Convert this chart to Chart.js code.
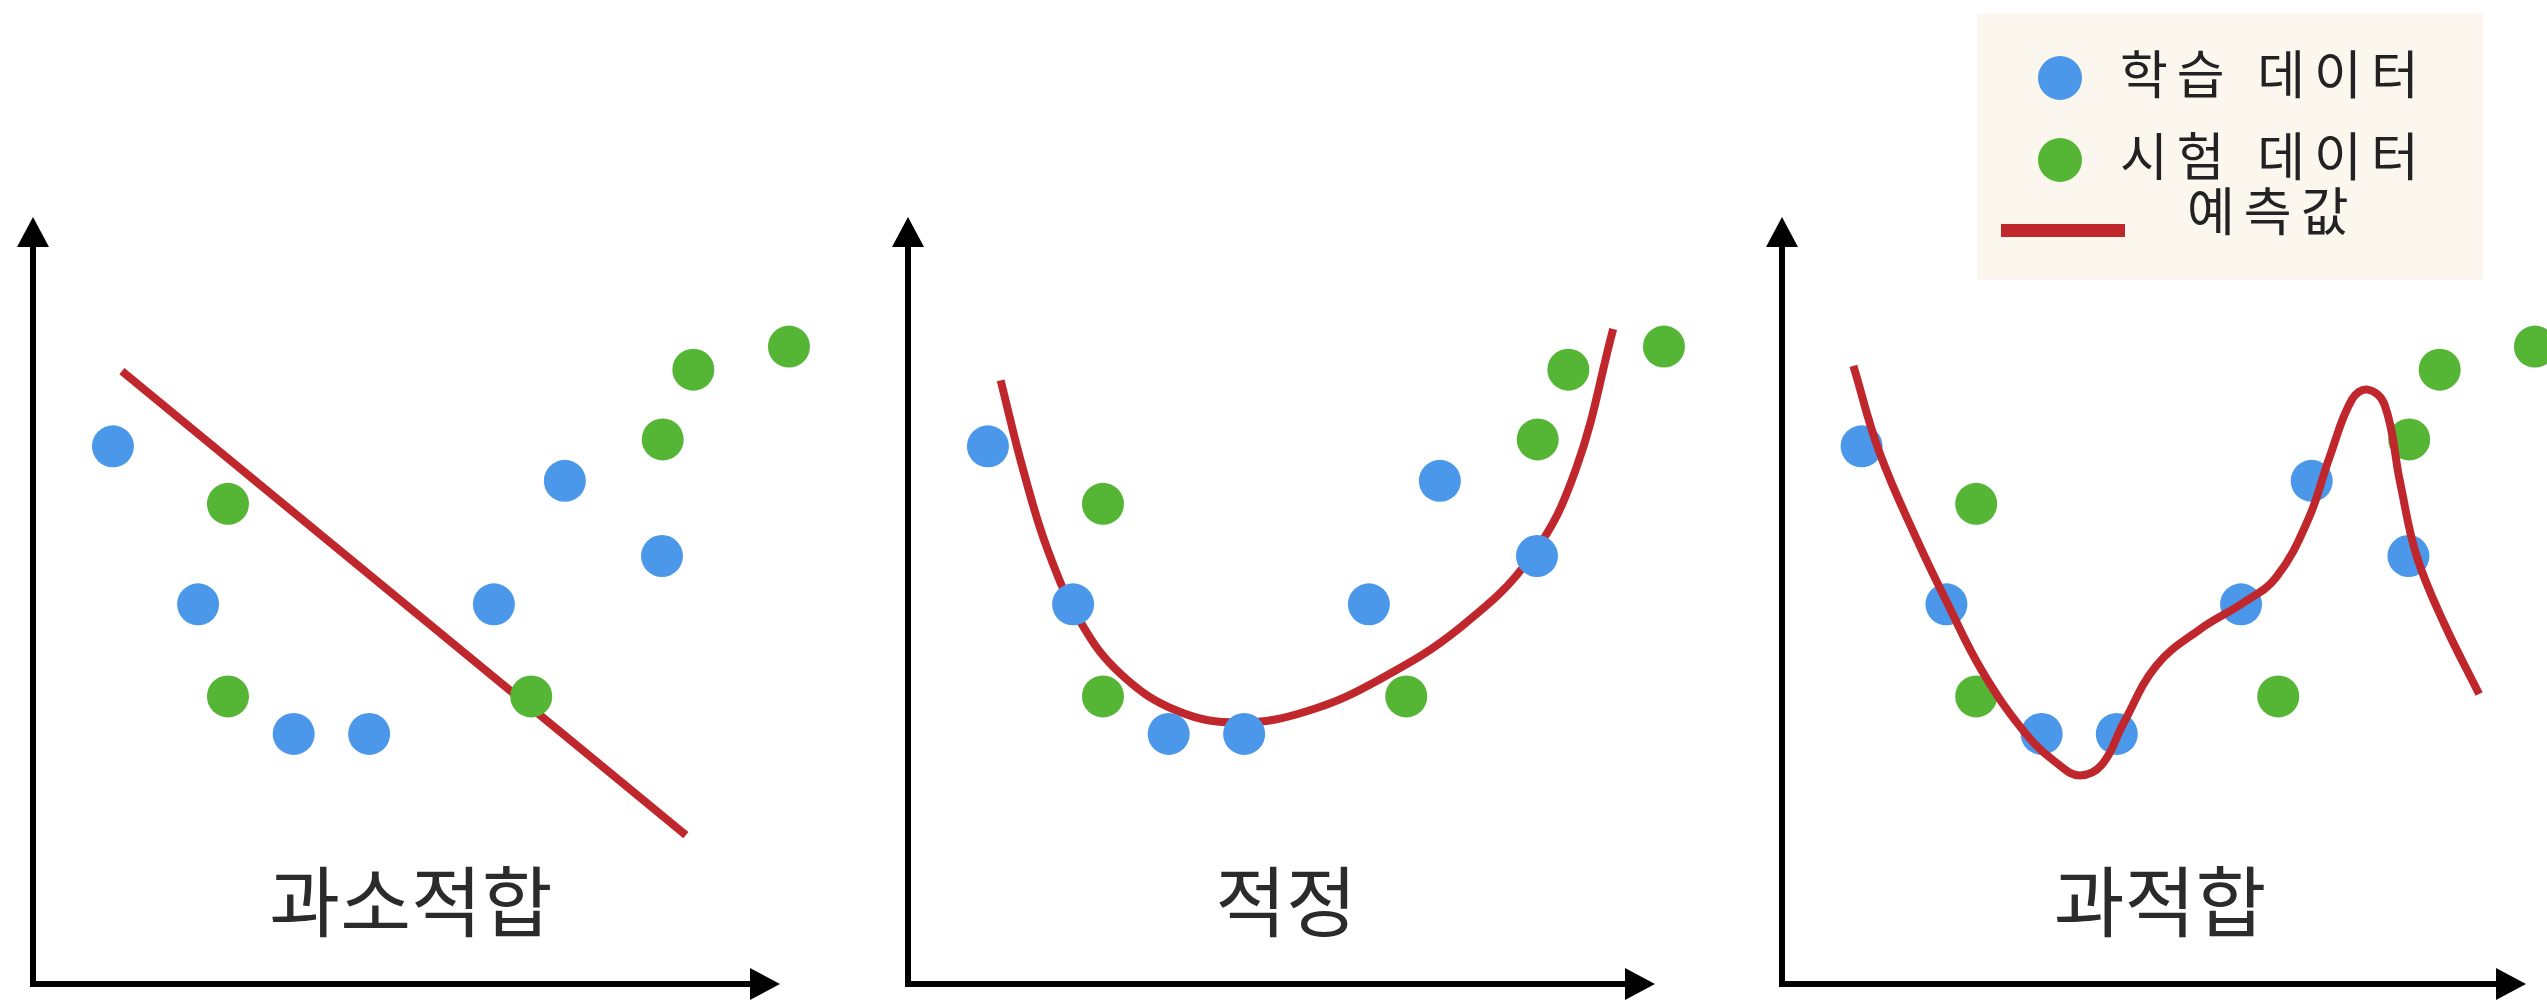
<!DOCTYPE html>
<html lang="ko">
<head>
<meta charset="utf-8">
<script src="https://cdn.jsdelivr.net/npm/chart.js@4.4.1/dist/chart.umd.min.js"></script>
<style>
html,body{margin:0;padding:0;background:#fff;width:2547px;height:1005px;overflow:hidden;}
#stage{position:relative;width:2547px;height:1005px;font-family:"Noto Sans CJK KR","Noto Sans",sans-serif;color:#2b2b2b;}
#stage canvas{position:absolute;top:0;}
.plabel{position:absolute;top:897px;transform:translate(-50%,-50%);font-size:77px;line-height:1;white-space:nowrap;}
#legend{position:absolute;left:1977px;top:14px;width:506px;height:266px;background:#fbf6ee;}
#legend .dot{position:absolute;width:44px;height:44px;border-radius:50%;transform:translate(-50%,-50%);}
#legend .bar{position:absolute;height:13px;}
#legend .txt{position:absolute;font-size:52px;line-height:1;letter-spacing:9px;white-space:nowrap;transform:translateY(-50%);color:#222;}
</style>
</head>
<body>
<div id="stage">
  <canvas id="c1" width="850" height="1005" style="left:0;width:850px;height:1005px;"></canvas>
  <canvas id="c2" width="850" height="1005" style="left:850px;width:850px;height:1005px;"></canvas>
  <canvas id="c3" width="847" height="1005" style="left:1700px;width:847px;height:1005px;"></canvas>
  <div class="plabel" id="l1" style="left:411px;"></div>
  <div class="plabel" id="l2" style="left:1286px;"></div>
  <div class="plabel" id="l3" style="left:2160px;"></div>
  <div id="legend"></div>
</div>
<script>
// ---------- data ----------
const panelTitles = ['과소적합', '적정', '과적합'];
const seriesNames = ['학습 데이터', '시험 데이터', '예측값'];

const axisMin = 0;
const axisMax = 10;

// training data (blue)
const trainX = [1.07, 2.21, 3.49, 4.50, 6.17, 7.12, 8.42];
const trainY = [7.01, 4.95, 3.26, 3.26, 4.95, 6.56, 5.58];

// test data (green)
const testX = [2.61, 2.61, 6.67, 8.43, 8.84, 10.12];
const testY = [6.26, 3.75, 3.75, 7.10, 8.01, 8.31];

// prediction: underfitting (straight line)
const underX = [1.19, 8.74];
const underY = [7.99, 1.94];

// prediction: good fit
const goodX = [1.24, 1.54, 1.87, 2.31, 2.85, 3.61, 4.44, 5.35, 6.33, 7.42, 8.35, 8.94, 9.44];
const goodY = [7.87, 6.71, 5.66, 4.72, 4.04, 3.56, 3.41, 3.56, 3.98, 4.67, 5.58, 6.71, 8.54];

// prediction: overfitting
const overX = [0.96, 1.31, 1.82, 2.22, 2.69, 3.28, 3.72, 4.00, 4.30, 4.59, 5.03, 5.61, 6.20, 6.64, 7.07, 7.36, 7.66, 7.87, 8.10, 8.31, 8.53, 8.90, 9.37];
const overY = [8.06, 6.93, 5.78, 4.97, 4.08, 3.26, 2.86, 2.72, 2.86, 3.40, 4.15, 4.62, 4.97, 5.30, 6.05, 6.87, 7.62, 7.75, 7.55, 6.53, 5.58, 4.70, 3.78];

// ---------- styling ----------
const BLUE = '#4b97ea';
const GREEN = '#55b534';
const RED = '#c0272d';

const toPts = (xs, ys) => xs.map((v, i) => ({ x: v, y: ys[i] }));

const arrowAxes = {
  id: 'arrowAxes',
  beforeDatasetsDraw(chart) {
    const { ctx, scales: { x, y } } = chart;
    const x0 = x.getPixelForValue(axisMin), x1 = x.getPixelForValue(axisMax);
    const y0 = y.getPixelForValue(axisMin), y1 = y.getPixelForValue(axisMax);
    ctx.save();
    ctx.strokeStyle = '#000';
    ctx.fillStyle = '#000';
    ctx.lineWidth = 6;
    ctx.lineJoin = 'miter';
    ctx.beginPath();
    ctx.moveTo(x0, y1 + 25);
    ctx.lineTo(x0, y0);
    ctx.lineTo(x1 - 25, y0);
    ctx.stroke();
    ctx.beginPath();
    ctx.moveTo(x1, y0);
    ctx.lineTo(x1 - 30, y0 - 16);
    ctx.lineTo(x1 - 30, y0 + 16);
    ctx.closePath();
    ctx.fill();
    ctx.beginPath();
    ctx.moveTo(x0, y1);
    ctx.lineTo(x0 - 16, y1 + 30);
    ctx.lineTo(x0 + 16, y1 + 30);
    ctx.closePath();
    ctx.fill();
    ctx.restore();
  }
};

function makeChart(id, curveX, curveY, pad, curveOnTop) {
  const ctx = document.getElementById(id);
  return new Chart(ctx, {
    type: 'scatter',
    data: {
      datasets: [
        {
          label: seriesNames[0],
          data: toPts(trainX, trainY),
          backgroundColor: BLUE,
          borderColor: BLUE,
          borderWidth: 0,
          pointRadius: 21,
          pointHoverRadius: 21,
          clip: false,
          order: 2
        },
        {
          label: seriesNames[1],
          data: toPts(testX, testY),
          backgroundColor: GREEN,
          borderColor: GREEN,
          borderWidth: 0,
          pointRadius: 21,
          pointHoverRadius: 21,
          clip: false,
          order: 2
        },
        {
          label: seriesNames[2],
          data: toPts(curveX, curveY),
          showLine: true,
          borderColor: RED,
          backgroundColor: RED,
          borderWidth: 8,
          borderCapStyle: 'butt',
          tension: 0.4,
          pointRadius: 0,
          pointHoverRadius: 0,
          clip: false,
          order: curveOnTop ? 1 : 3
        }
      ]
    },
    options: {
      responsive: false,
      animation: false,
      devicePixelRatio: 1,
      events: [],
      layout: { padding: pad },
      plugins: { legend: { display: false }, tooltip: { enabled: false }, title: { display: false } },
      scales: {
        x: { type: 'linear', min: axisMin, max: axisMax, display: false },
        y: { type: 'linear', min: axisMin, max: axisMax, display: false }
      }
    },
    plugins: [arrowAxes]
  });
}

makeChart('c1', underX, underY, { left: 33, right: 70, top: 217, bottom: 15 }, false);
makeChart('c2', goodX, goodY, { left: 58, right: 45, top: 217, bottom: 15 }, false);
makeChart('c3', overX, overY, { left: 82, right: 19, top: 217, bottom: 15 }, true);

// panel labels
['l1', 'l2', 'l3'].forEach((id, i) => { document.getElementById(id).textContent = panelTitles[i]; });

// legend
const lg = document.getElementById('legend');
function addEl(cls, style, text) {
  const d = document.createElement('div');
  d.className = cls;
  Object.assign(d.style, style);
  if (text) d.textContent = text;
  lg.appendChild(d);
}
addEl('dot', { left: '83px', top: '64px', background: BLUE });
addEl('txt', { left: '143px', top: '58px' }, seriesNames[0]);
addEl('dot', { left: '83px', top: '146px', background: GREEN });
addEl('txt', { left: '143px', top: '140px' }, seriesNames[1]);
addEl('bar', { left: '24px', top: '210px', width: '124px', background: RED });
addEl('txt', { left: '210px', top: '195px' }, seriesNames[2]);
</script>
</body>
</html>
